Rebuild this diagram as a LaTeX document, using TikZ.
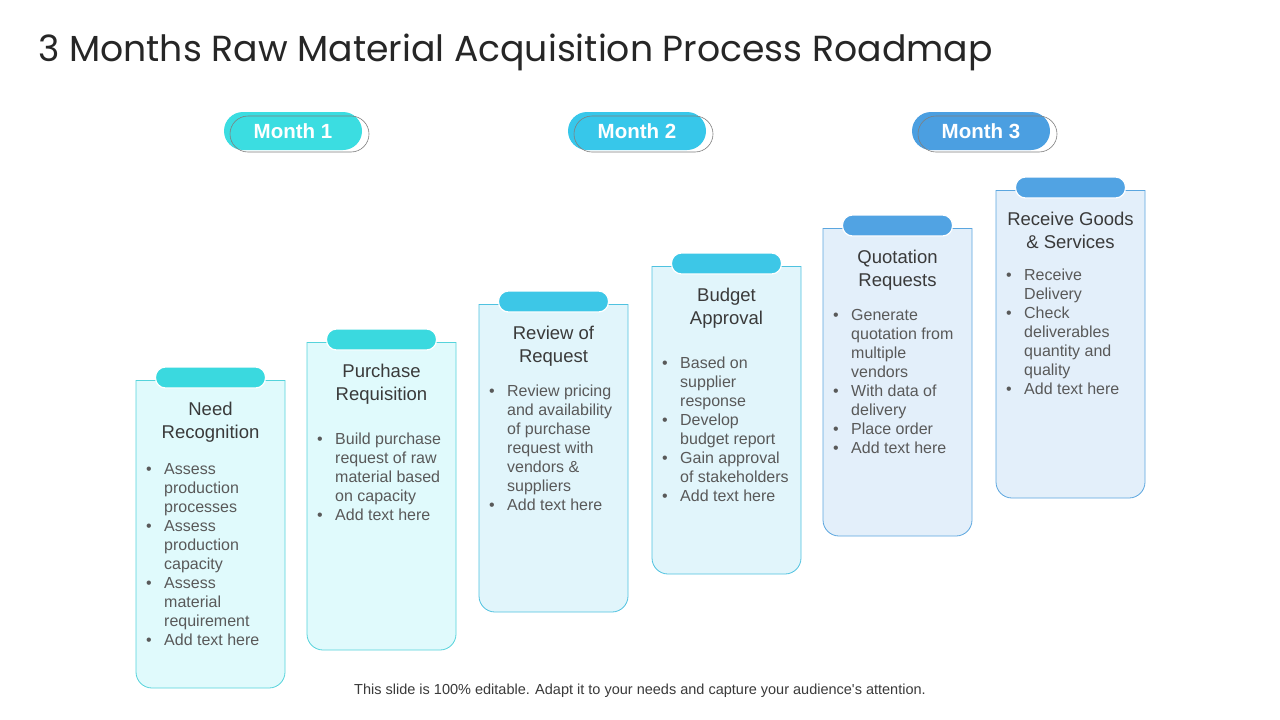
\documentclass[tikz,border=0pt]{standalone}
\usepackage{fontspec}
\setmainfont{Liberation Sans}
\newfontfamily\titlefont{Poppins}
\usepackage{xcolor}
\usetikzlibrary{positioning}

\definecolor{monthA}{HTML}{3BDDE1}
\definecolor{monthB}{HTML}{37C7EA}
\definecolor{monthC}{HTML}{4B9FE1}
\definecolor{tabA}{HTML}{3AD9DF}
\definecolor{fillA}{HTML}{E0FAFC}
\definecolor{lineA}{HTML}{55D3DB}
\definecolor{tabB}{HTML}{3DC7E7}
\definecolor{fillB}{HTML}{E1F5FB}
\definecolor{lineB}{HTML}{4FC2E0}
\definecolor{tabC}{HTML}{51A3E3}
\definecolor{fillC}{HTML}{E3EFFA}
\definecolor{lineC}{HTML}{5BA6DF}
\definecolor{ringgray}{HTML}{7F7F7F}
\definecolor{titlegray}{HTML}{262626}
\definecolor{headgray}{HTML}{3A3A3A}
\definecolor{listgray}{HTML}{595959}

% #1 name, #2 left, #3 top, #4 colour set, #5 heading, #6 list offset, #7 list rows
\newcommand{\stepcard}[7]{%
  \pgfmathsetmacro{\crgt}{#2+149}
  \pgfmathsetmacro{\cbtm}{#3+308}
  \pgfmathsetmacro{\cmidx}{#2+74.5}
  \filldraw[fill=fill#4, draw=line#4, line width=0.8pt, rounded corners=16pt]
    (#2,#3) -- (#2,\cbtm) -- (\crgt,\cbtm) -- (\crgt,#3);
  \draw[line#4, line width=0.8pt] (#2,#3) -- (\crgt,#3);
  \node[tab, fill=tab#4] (#1tab) at (\cmidx,#3-2.5) {};
  \node[head] (#1head) at (\cmidx,#3+35) {\begin{tabular}[t]{@{}c@{}}#5\end{tabular}};
  \node[list] (#1list) at (#2+10,#3+#6+0.8) {\begin{tabular}[t]{@{}p{18pt}@{}l@{}}#7\end{tabular}};
}

\begin{document}
\begin{tikzpicture}
  [x=1pt,y=-1pt,every node/.style={inner sep=0pt},
   pill/.style={rounded corners=19pt, minimum width=138pt, minimum height=38pt},
   tab/.style={draw=white, line width=1.2pt, rounded corners=10pt, minimum width=110pt, minimum height=21pt},
   head/.style={anchor=base, text=headgray, font=\fontsize{18.5}{23}\selectfont},
   list/.style={anchor=base west, text=listgray, font=\fontsize{16}{19}\selectfont}]
  \useasboundingbox[fill=white] (0,0) rectangle (1280,720);

  \node[anchor=base west, text=titlegray, font=\titlefont\fontsize{36.2}{42}\selectfont] (title) at (38,61)
    {3 Months Raw Material Acquisition Process Roadmap};

  \foreach \m/\x/\c in {1/293/monthA, 2/637/monthB, 3/981/monthC}{
    \node[pill, fill=\c, text=white, font=\bfseries\fontsize{20.5}{24}\selectfont] (month\m) at (\x,131) {Month \m};
    \node[pill, draw=ringgray, line width=0.6pt, rounded corners=18pt, minimum width=139pt, minimum height=36pt]
      (ring\m) at (\x+6.5,134) {};
  }

  \stepcard{need}{136}{380}{A}{Need\\Recognition}{93.5}
    {\textbullet & Assess\\ & production\\ & processes\\ \textbullet & Assess\\ & production\\ & capacity\\
     \textbullet & Assess\\ & material\\ & requirement\\ \textbullet & Add text here}
  \stepcard{purchase}{307}{342}{A}{Purchase\\Requisition}{101.5}
    {\textbullet & Build purchase\\ & request of raw\\ & material based\\ & on capacity\\ \textbullet & Add text here}
  \stepcard{review}{479}{304}{B}{Review of\\Request}{91.5}
    {\textbullet & Review pricing\\ & and availability\\ & of purchase\\ & request with\\ & vendors \&\\ & suppliers\\
     \textbullet & Add text here}
  \stepcard{budget}{652}{266}{B}{Budget\\Approval}{101.5}
    {\textbullet & Based on\\ & supplier\\ & response\\ \textbullet & Develop\\ & budget report\\
     \textbullet & Gain approval\\ & of stakeholders\\ \textbullet & Add text here}
  \stepcard{quote}{823}{228}{C}{Quotation\\Requests}{91.5}
    {\textbullet & Generate\\ & quotation from\\ & multiple\\ & vendors\\ \textbullet & With data of\\ & delivery\\
     \textbullet & Place order\\ \textbullet & Add text here}
  \stepcard{receive}{996}{190}{C}{Receive Goods\\\& Services}{89.5}
    {\textbullet & Receive\\ & Delivery\\ \textbullet & Check\\ & deliverables\\ & quantity and\\ & quality\\
     \textbullet & Add text here}

  \node[anchor=base, text=headgray, font=\fontsize{14.5}{16}\selectfont] (footer) at (640,694)
    {This slide is 100\% editable. Adapt it to your needs and capture your audience\textquotesingle s attention.};
\end{tikzpicture}
\end{document}
